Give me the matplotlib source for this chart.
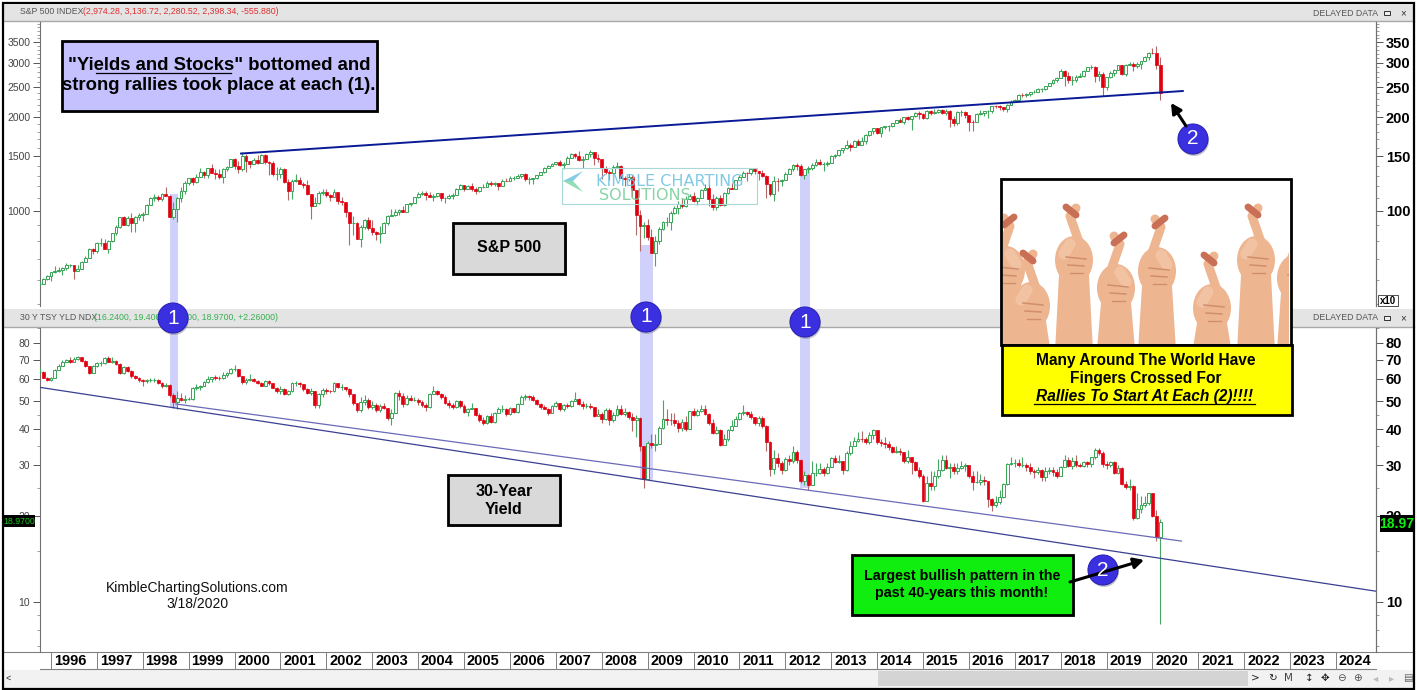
import numpy as np
import matplotlib
matplotlib.use('Agg')
import matplotlib.pyplot as plt
from matplotlib.patches import Rectangle, Circle, Ellipse, Polygon
from matplotlib.transforms import ScaledTranslation

plt.rcParams['font.family'] = ['Liberation Sans', 'DejaVu Sans']

# monthly candles, Oct 1995 to Mar 2020
spx_close = [581, 605, 616,
    636, 640, 645, 654, 669, 671, 640, 652, 687, 705, 757, 741,
    786, 791, 757, 801, 848, 885, 954, 899, 947, 915, 955, 970,
    980, 1049, 1102, 1112, 1091, 1134, 1121, 957, 1017, 1099, 1164, 1229,
    1280, 1238, 1286, 1335, 1302, 1373, 1329, 1320, 1283, 1363, 1389, 1469,
    1394, 1366, 1499, 1452, 1421, 1455, 1431, 1518, 1436, 1429, 1315, 1320,
    1366, 1240, 1160, 1249, 1256, 1224, 1211, 1134, 1041, 1060, 1139, 1148,
    1130, 1107, 1147, 1077, 1067, 990, 912, 916, 815, 886, 936, 880,
    856, 841, 848, 917, 964, 974, 990, 1008, 996, 1051, 1058, 1112,
    1131, 1145, 1126, 1107, 1121, 1141, 1102, 1104, 1115, 1130, 1174, 1212,
    1181, 1204, 1181, 1157, 1191, 1191, 1234, 1220, 1229, 1207, 1249, 1248,
    1280, 1281, 1295, 1311, 1270, 1270, 1277, 1304, 1336, 1378, 1401, 1418,
    1438, 1407, 1421, 1482, 1531, 1503, 1455, 1474, 1527, 1549, 1481, 1468,
    1379, 1331, 1323, 1386, 1400, 1280, 1267, 1283, 1166, 969, 896, 903,
    826, 735, 798, 873, 919, 919, 987, 1021, 1057, 1036, 1096, 1115,
    1074, 1104, 1169, 1187, 1089, 1031, 1102, 1049, 1141, 1183, 1181, 1258,
    1286, 1327, 1326, 1364, 1345, 1321, 1292, 1219, 1131, 1253, 1247, 1258,
    1312, 1366, 1408, 1398, 1310, 1362, 1379, 1407, 1441, 1412, 1416, 1426,
    1498, 1515, 1569, 1598, 1631, 1606, 1686, 1633, 1682, 1757, 1806, 1848,
    1783, 1859, 1872, 1884, 1924, 1960, 1931, 2003, 1972, 2018, 2068, 2059,
    1995, 2104, 2068, 2085, 2107, 2063, 2104, 1972, 1920, 2079, 2080, 2044,
    1940, 1932, 2060, 2065, 2097, 2099, 2174, 2171, 2168, 2126, 2199, 2239,
    2279, 2364, 2363, 2384, 2412, 2423, 2470, 2472, 2519, 2575, 2648, 2674,
    2824, 2714, 2641, 2648, 2705, 2718, 2816, 2901, 2914, 2712, 2760, 2507,
    2704, 2784, 2834, 2946, 2752, 2942, 2980, 2926, 2977, 3038, 3141, 3231,
    3226, 2954, 2398]
spx_high = [590, 608, 622,
    636, 665, 660, 660, 680, 673, 672, 672, 691, 714, 758, 762,
    794, 818, 815, 808, 851, 899, 957, 961, 963, 983, 964, 986,
    993, 1050, 1113, 1132, 1123, 1145, 1191, 1122, 1067, 1113, 1193, 1245,
    1280, 1282, 1316, 1371, 1348, 1373, 1420, 1361, 1361, 1373, 1397, 1473,
    1478, 1445, 1553, 1528, 1453, 1478, 1518, 1526, 1531, 1444, 1452, 1389,
    1383, 1376, 1268, 1269, 1316, 1287, 1238, 1255, 1132, 1111, 1163, 1173,
    1176, 1131, 1174, 1148, 1107, 1070, 990, 965, 925, 900, 942, 955,
    934, 864, 896, 920, 972, 1015, 1016, 1018, 1040, 1054, 1064, 1112,
    1155, 1159, 1163, 1150, 1133, 1146, 1142, 1109, 1132, 1142, 1188, 1218,
    1217, 1212, 1229, 1192, 1199, 1220, 1245, 1245, 1244, 1233, 1270, 1276,
    1295, 1295, 1311, 1319, 1326, 1284, 1280, 1306, 1340, 1390, 1408, 1432,
    1441, 1461, 1439, 1499, 1535, 1541, 1556, 1504, 1539, 1576, 1545, 1523,
    1471, 1396, 1359, 1404, 1441, 1404, 1293, 1313, 1303, 1168, 1007, 919,
    944, 876, 832, 888, 930, 957, 997, 1039, 1080, 1102, 1114, 1131,
    1150, 1113, 1181, 1220, 1220, 1132, 1120, 1130, 1151, 1197, 1228, 1262,
    1302, 1344, 1332, 1367, 1371, 1346, 1357, 1307, 1220, 1292, 1278, 1268,
    1334, 1378, 1420, 1423, 1415, 1363, 1392, 1427, 1475, 1471, 1434, 1449,
    1510, 1530, 1570, 1598, 1688, 1654, 1697, 1709, 1730, 1772, 1814, 1849,
    1850, 1868, 1884, 1897, 1924, 1968, 1991, 2006, 2019, 2019, 2076, 2094,
    2065, 2120, 2118, 2126, 2135, 2130, 2133, 2113, 2021, 2094, 2116, 2105,
    2039, 1963, 2075, 2112, 2104, 2121, 2178, 2194, 2188, 2169, 2214, 2278,
    2301, 2372, 2401, 2399, 2416, 2454, 2484, 2491, 2520, 2582, 2658, 2695,
    2873, 2835, 2801, 2717, 2743, 2791, 2848, 2917, 2941, 2940, 2815, 2800,
    2708, 2813, 2861, 2950, 2955, 2965, 3028, 3014, 3022, 3050, 3154, 3248,
    3337, 3394, 3137]
spx_low = [577, 580, 600,
    597, 630, 634, 624, 645, 658, 606, 639, 650, 692, 705, 729,
    733, 773, 756, 733, 793, 837, 882, 899, 896, 855, 855, 932,
    927, 979, 1047, 1077, 1074, 1074, 1114, 957, 940, 923, 1066, 1136,
    1212, 1212, 1228, 1282, 1277, 1278, 1329, 1269, 1269, 1233, 1348, 1387,
    1361, 1325, 1346, 1339, 1373, 1420, 1414, 1425, 1418, 1305, 1295, 1254,
    1275, 1228, 1081, 1091, 1241, 1219, 1186, 1130, 944, 1040, 1056, 1124,
    1110, 1075, 1108, 1057, 1048, 953, 776, 834, 815, 768, 877, 870,
    840, 807, 789, 848, 902, 963, 963, 968, 990, 995, 1036, 1058,
    1105, 1125, 1087, 1107, 1076, 1113, 1079, 1060, 1092, 1090, 1128, 1173,
    1164, 1180, 1163, 1137, 1147, 1186, 1191, 1201, 1205, 1168, 1202, 1245,
    1245, 1254, 1278, 1280, 1245, 1224, 1225, 1265, 1303, 1328, 1376, 1396,
    1403, 1397, 1364, 1420, 1484, 1477, 1448, 1371, 1466, 1490, 1407, 1435,
    1271, 1317, 1257, 1323, 1373, 1273, 1200, 1247, 1107, 840, 741, 818,
    805, 735, 667, 782, 866, 892, 869, 979, 978, 1020, 1030, 1085,
    1071, 1045, 1105, 1167, 1040, 1011, 1011, 1040, 1040, 1131, 1174, 1181,
    1262, 1295, 1249, 1303, 1312, 1258, 1282, 1101, 1121, 1075, 1158, 1202,
    1258, 1312, 1341, 1358, 1292, 1267, 1325, 1355, 1397, 1403, 1343, 1398,
    1426, 1485, 1501, 1537, 1582, 1560, 1605, 1628, 1633, 1646, 1747, 1768,
    1771, 1737, 1834, 1814, 1860, 1915, 1930, 1905, 1964, 1821, 2001, 1972,
    1981, 1981, 2040, 2049, 2067, 2056, 2044, 1867, 1872, 1893, 2019, 1993,
    1812, 1810, 1938, 2034, 2025, 1992, 2075, 2148, 2120, 2097, 2084, 2187,
    2245, 2267, 2322, 2329, 2353, 2406, 2408, 2418, 2446, 2520, 2558, 2605,
    2683, 2533, 2585, 2553, 2595, 2692, 2699, 2813, 2864, 2604, 2631, 2347,
    2444, 2682, 2722, 2849, 2750, 2729, 2953, 2822, 2892, 2856, 3040, 3070,
    3214, 2855, 2280]

tyx_close = [63.4, 60.6, 59.5,
    60.4, 64.6, 66.7, 68.9, 69.9, 68.9, 70.3, 71.2, 69.2, 66.4, 63.0, 66.4,
    67.9, 68.0, 71.0, 68.9, 69.1, 67.8, 63.0, 66.1, 64.0, 61.5, 60.5, 59.2,
    58.9, 59.3, 59.3, 59.5, 58.0, 56.5, 57.2, 52.6, 49.9, 51.6, 50.6, 50.9,
    50.9, 55.8, 56.2, 56.6, 58.3, 59.7, 60.8, 60.6, 60.5, 61.8, 62.9, 64.8,
    64.9, 61.5, 58.4, 59.6, 60.1, 59.0, 57.8, 56.7, 58.8, 57.9, 55.8, 54.6,
    55.1, 53.1, 54.4, 57.9, 58.0, 57.5, 55.2, 53.7, 54.2, 48.8, 52.9, 54.7,
    54.3, 54.2, 58.0, 56.0, 56.2, 55.1, 52.9, 49.2, 46.7, 49.9, 50.4, 47.8,
    48.6, 46.7, 48.2, 47.6, 43.8, 45.6, 53.6, 52.2, 48.9, 51.6, 50.4, 50.7,
    49.8, 48.5, 47.7, 53.0, 54.3, 53.1, 51.7, 49.4, 48.8, 47.9, 50.0, 48.3,
    45.9, 47.2, 47.5, 44.8, 43.2, 41.9, 44.4, 42.4, 45.7, 47.2, 47.2, 45.4,
    47.4, 45.9, 49.0, 51.7, 52.1, 51.9, 50.6, 48.9, 47.7, 47.2, 45.5, 48.1,
    49.3, 46.9, 48.5, 48.1, 50.1, 51.2, 49.1, 48.3, 48.3, 47.9, 44.6, 45.3,
    43.5, 46.7, 43.1, 44.9, 47.1, 45.3, 45.8, 44.2, 43.1, 43.8, 35.0, 26.9,
    35.8, 35.3, 35.5, 40.5, 43.4, 43.2, 43.0, 42.1, 40.5, 42.3, 40.0, 46.4,
    45.0, 46.3, 47.2, 45.3, 42.2, 38.9, 39.9, 35.2, 36.9, 39.8, 41.1, 43.3,
    45.7, 45.8, 45.1, 44.1, 42.2, 43.7, 41.2, 36.0, 29.1, 31.7, 30.5, 28.9,
    31.4, 30.9, 33.4, 31.2, 26.4, 27.6, 25.6, 28.1, 28.2, 29.1, 28.2, 29.5,
    31.7, 30.8, 31.0, 28.8, 33.0, 35.0, 36.4, 37.0, 36.9, 36.0, 38.2, 39.7,
    36.0, 35.8, 35.6, 34.6, 33.3, 33.6, 33.2, 30.9, 32.1, 30.7, 28.9, 27.5,
    22.5, 25.9, 25.4, 27.5, 28.8, 31.2, 29.2, 29.5, 28.5, 29.2, 29.8, 30.1,
    27.5, 26.1, 26.1, 26.6, 26.5, 22.9, 21.8, 22.3, 23.2, 25.8, 30.3, 30.6,
    30.6, 30.0, 30.1, 29.6, 28.6, 28.4, 28.9, 27.3, 28.6, 28.8, 28.3, 27.4,
    29.5, 31.3, 29.7, 31.1, 30.0, 29.8, 30.8, 30.2, 31.9, 33.9, 33.0, 30.2,
    30.0, 30.8, 28.1, 29.3, 25.7, 25.2, 25.3, 19.6, 21.1, 21.8, 22.1, 23.9,
    20.0, 16.8, 18.97]
tyx_high = [65.5, 63.8, 61.0,
    61.0, 65.0, 67.5, 69.5, 70.5, 71.5, 71.5, 72.0, 71.5, 70.0, 66.5, 67.0,
    68.5, 69.0, 71.5, 72.0, 71.5, 70.0, 68.0, 66.5, 66.5, 64.5, 62.0, 61.0,
    60.0, 60.0, 60.5, 60.5, 60.0, 58.5, 58.0, 57.5, 53.5, 54.5, 53.5, 52.5,
    52.0, 56.0, 57.5, 57.0, 59.0, 61.5, 61.0, 62.0, 61.5, 63.5, 63.5, 65.5,
    67.0, 65.0, 61.5, 60.5, 62.5, 60.5, 59.5, 58.5, 59.5, 59.5, 58.0, 56.0,
    56.5, 55.5, 55.0, 58.5, 59.0, 58.5, 57.5, 55.5, 55.5, 54.5, 53.5, 55.5,
    55.5, 55.0, 58.5, 58.0, 57.5, 56.0, 55.5, 52.5, 49.5, 52.0, 52.5, 51.5,
    50.0, 49.5, 49.0, 49.5, 47.5, 47.0, 54.0, 55.0, 53.5, 52.5, 52.5, 52.0,
    51.5, 50.5, 49.5, 53.5, 56.5, 55.0, 53.5, 52.5, 50.5, 49.5, 50.5, 50.5,
    49.0, 47.5, 49.5, 47.5, 45.5, 44.0, 45.0, 45.5, 46.0, 48.0, 48.5, 47.5,
    47.8, 47.5, 49.5, 52.5, 53.0, 52.5, 52.5, 51.0, 49.5, 48.5, 47.5, 48.5,
    50.0, 49.5, 49.0, 49.5, 50.5, 54.0, 51.5, 50.0, 49.5, 49.5, 48.0, 47.0,
    46.0, 47.5, 47.5, 46.0, 48.5, 48.5, 47.5, 46.5, 45.5, 45.0, 44.0, 34.0,
    36.5, 38.5, 38.5, 41.0, 50.5, 47.0, 45.5, 45.5, 43.0, 43.5, 44.5, 46.5,
    47.5, 47.0, 48.5, 48.5, 45.5, 43.5, 41.0, 40.0, 38.5, 40.0, 43.0, 44.5,
    46.0, 48.5, 46.5, 46.5, 44.0, 44.5, 44.5, 41.5, 36.5, 34.0, 33.0, 31.0,
    32.0, 32.5, 35.0, 34.0, 31.5, 28.5, 28.0, 31.0, 30.5, 30.5, 29.5, 30.5,
    32.0, 32.5, 32.5, 31.0, 33.5, 36.5, 37.5, 39.0, 39.5, 37.5, 39.0, 40.0,
    39.5, 37.0, 37.5, 36.5, 35.0, 35.0, 34.5, 33.0, 34.0, 32.0, 31.0, 29.5,
    28.0, 27.5, 28.5, 28.5, 31.5, 32.5, 32.5, 30.5, 30.5, 30.5, 31.0, 30.5,
    30.0, 28.5, 28.5, 28.0, 27.5, 26.5, 23.0, 23.5, 24.5, 26.0, 30.5, 32.0,
    31.5, 31.5, 32.0, 30.5, 30.5, 29.0, 29.5, 29.0, 29.5, 29.5, 29.5, 29.0,
    29.8, 32.5, 32.0, 32.0, 32.5, 30.5, 31.0, 31.0, 32.0, 34.5, 34.5, 33.5,
    31.0, 31.0, 31.0, 30.0, 29.5, 26.5, 26.8, 25.5, 24.0, 23.5, 23.5, 24.0,
    24.0, 21.0, 19.4]
tyx_low = [62.8, 60.2, 59.0,
    59.0, 60.2, 64.3, 66.5, 68.5, 68.0, 68.5, 69.5, 68.5, 66.0, 62.5, 63.0,
    66.0, 66.5, 67.5, 68.5, 68.0, 67.0, 62.5, 62.5, 63.5, 60.5, 60.0, 58.5,
    56.5, 58.0, 58.5, 58.5, 57.5, 55.5, 56.0, 52.0, 47.5, 47.0, 50.0, 49.5,
    50.5, 50.5, 55.0, 55.0, 56.5, 58.0, 58.5, 59.5, 59.5, 60.0, 61.0, 62.5,
    64.0, 61.0, 57.5, 57.5, 59.0, 58.5, 57.5, 56.5, 56.5, 57.0, 55.5, 53.5,
    53.0, 52.5, 52.5, 54.0, 56.5, 56.0, 54.5, 53.0, 52.5, 47.5, 47.5, 52.0,
    53.0, 53.5, 54.0, 55.5, 55.0, 54.5, 52.0, 48.5, 46.0, 46.0, 48.5, 47.0,
    47.0, 46.0, 46.0, 47.0, 43.0, 41.5, 45.5, 50.5, 48.0, 48.5, 50.0, 50.0,
    48.5, 48.0, 46.5, 47.5, 53.0, 52.5, 51.0, 49.0, 47.5, 47.0, 47.5, 47.5,
    45.5, 44.5, 47.0, 44.5, 42.5, 41.5, 41.8, 42.0, 42.0, 45.5, 46.0, 44.5,
    45.0, 45.5, 45.5, 49.0, 50.5, 50.5, 50.0, 48.5, 47.0, 47.0, 45.0, 45.5,
    47.8, 46.5, 46.5, 47.5, 48.0, 50.0, 48.5, 47.0, 47.5, 47.0, 44.0, 44.5,
    42.0, 43.0, 41.5, 42.5, 44.5, 45.0, 44.5, 43.5, 39.5, 37.5, 33.5, 25.0,
    26.9, 34.5, 33.5, 35.5, 40.0, 41.5, 41.5, 41.0, 39.0, 39.5, 39.5, 40.0,
    44.5, 44.5, 46.0, 45.0, 41.5, 38.5, 38.5, 35.0, 35.5, 36.5, 39.5, 41.0,
    43.0, 45.0, 44.5, 43.5, 41.5, 41.0, 40.5, 33.5, 27.5, 28.0, 29.5, 28.0,
    28.5, 30.0, 30.5, 30.5, 26.0, 25.5, 24.5, 25.5, 27.5, 28.0, 27.5, 28.0,
    29.5, 30.5, 30.5, 28.0, 28.5, 32.5, 35.0, 36.0, 36.0, 35.5, 35.5, 37.0,
    35.5, 35.0, 34.5, 34.0, 33.0, 33.0, 32.5, 30.5, 30.5, 28.0, 28.5, 27.0,
    22.3, 22.5, 24.5, 24.5, 27.0, 28.5, 29.0, 27.0, 28.0, 28.0, 29.0, 28.5,
    27.0, 24.5, 26.0, 25.5, 25.5, 21.5, 20.8, 21.5, 22.0, 23.0, 25.5, 30.0,
    29.5, 29.5, 29.5, 28.5, 28.0, 27.0, 28.0, 26.5, 26.5, 28.0, 27.5, 27.0,
    27.5, 29.5, 29.5, 29.0, 29.5, 29.5, 29.5, 29.5, 29.5, 31.5, 32.5, 29.5,
    29.0, 29.5, 28.0, 28.0, 25.5, 24.8, 24.5, 19.3, 19.5, 20.5, 21.5, 21.8,
    19.8, 16.3, 8.4]

years = list(range(1996, 2025))
spx_ticks = [1000, 1500, 2000, 2500, 3000, 3500]
tyx_ticks = [10, 20, 30, 40, 50, 60, 70, 80]

# trendlines, (date, value) of each end
spx_trend_x = [2000.14, 2020.66]
spx_trend_y = [1531, 2434]
tyx_lower_x = [1995.76, 2024.87]
tyx_lower_y = [56, 10.9]
tyx_upper_x = [1998.72, 2020.63]
tyx_upper_y = [49, 16.3]

W, H = 1417, 690
fig = plt.figure(figsize=(W / 100, H / 100), dpi=100)


def pane(top, bottom):
    return fig.add_axes([40 / W, 1 - bottom / H, 1336 / W, (bottom - top) / H], zorder=1)


def candles(ax, x, close, high, low):
    close = np.array(close, dtype=float)
    high = np.array(high, dtype=float)
    low = np.array(low, dtype=float)
    opn = np.r_[close[0], close[:-1]]
    up = close >= opn
    ax.vlines(x[up], low[up], high[up], color='#45a862', lw=0.8, zorder=3)
    ax.vlines(x[~up], low[~up], high[~up], color='#b06a6a', lw=0.8, zorder=3)
    ax.bar(x[up], np.abs(close - opn)[up], bottom=opn[up], width=0.062,
           facecolor='white', edgecolor='#35a552', lw=0.7, zorder=4)
    ax.bar(x[~up], np.abs(close - opn)[~up], bottom=close[~up], width=0.062,
           facecolor='#e00010', edgecolor='#e00010', lw=0.5, zorder=4)


def style_pane(ax, lo, hi, major, minor, fmt_right):
    ax.set_yscale('log')
    ax.set_xlim(1995.76, 2024.87)
    ax.set_ylim(lo, hi)
    ax.patch.set_visible(False)
    for s in ['top', 'bottom']:
        ax.spines[s].set_visible(False)
    for s in ['left', 'right']:
        ax.spines[s].set_color('#707070')
    ax.set_yticks(major)
    ax.set_yticklabels([str(v) for v in major])
    ax.set_yticks(minor, minor=True)
    ax.set_yticklabels([], minor=True)
    ax.tick_params(axis='y', which='major', length=5, width=0.7, color='#555555',
                   labelsize=7.5, labelcolor='#444444', pad=2)
    ax.tick_params(axis='y', which='minor', length=2.5, width=0.5, color='#777777')
    sec = ax.secondary_yaxis('right', functions=(lambda v: v / fmt_right, lambda v: v * fmt_right))
    sec.set_yscale('log')
    sec.set_yticks([v / fmt_right for v in major])
    sec.set_yticklabels([str(int(v / fmt_right)) for v in major], fontweight='bold')
    sec.set_yticks([v / fmt_right for v in minor], minor=True)
    sec.set_yticklabels([], minor=True)
    sec.tick_params(axis='y', which='major', length=5, width=0.7, color='#555555', labelsize=10.5, pad=2)
    sec.tick_params(axis='y', which='minor', length=2.5, width=0.5, color='#777777')
    sec.spines['right'].set_color('#707070')


# background layer, pixel coordinates
bg = fig.add_axes([0, 0, 1, 1], zorder=0)
bg.set_xlim(0, W)
bg.set_ylim(H, 0)
bg.axis('off')

for top, bottom in [(5, 21), (309, 327)]:
    bg.add_patch(Rectangle((4, top), 1410, bottom - top, fc='#e4e4e4', ec='none'))
    bg.plot([4, 1414], [bottom, bottom], color='#a8a8a8', lw=1)
    bg.text(1346, (top + bottom) / 2, 'DELAYED DATA', fontsize=6.3, color='#555555', ha='center', va='center')
    bg.add_patch(Rectangle((1384, (top + bottom) / 2 - 2), 6, 4, fc='#eeeeee', ec='#333333', lw=0.7))
    bg.text(1403, (top + bottom) / 2, '×', fontsize=7, color='#333333', ha='center', va='center')

bg.text(20, 11, 'S&P 500 INDEX', fontsize=6.3, color='#555555', va='center')
bg.text(83, 11, '(2,974.28, 3,136.72, 2,280.52, 2,398.34, -555.880)', fontsize=6.3, color='#e03030', va='center')
bg.text(20, 318, '30 Y TSY YLD NDX', fontsize=6.3, color='#555555', va='center')
bg.text(94, 318, '(16.2400, 19.4000, 6.9800, 18.9700, +2.26000)', fontsize=6.3, color='#35b050', va='center')

# the three (1) bands
for x0, x1, y0, y1 in [(170, 178, 194, 408), (640, 653, 245, 480), (800, 810, 170, 488)]:
    bg.add_patch(Rectangle((x0, y0), x1 - x0, y1 - y0, fc='#cfd1fb', ec='none'))

# bottom strip
bg.plot([4, 1414], [652, 652], color='#808080', lw=0.8)
bg.plot([40, 1376], [669, 669], color='#808080', lw=0.8)
bg.add_patch(Rectangle((4, 670), 1410, 18, fc='#f2f2f2', ec='none'))
bg.add_patch(Rectangle((878, 671), 370, 15, fc='#d4d4d4', ec='none'))
bg.text(8, 678, '<', fontsize=6.5, color='#222222', ha='center', va='center')
for x, s, c in [(1255, '>', '#222222'), (1273, '↻', '#222222'), (1288, 'M', '#444444'), (1309, '↕', '#222222'),
                (1325, '✥', '#222222'), (1341, '⊖', '#555555'), (1357, '⊕', '#555555'),
                (1376, '◂', '#bbbbbb'), (1392, '▸', '#bbbbbb'), (1408, '▤', '#666666')]:
    bg.text(x, 678, s, fontsize=7.5, color=c, ha='center', va='center', family=['DejaVu Sans'])

# data panes
dates = 1995.75 + np.arange(len(spx_close)) / 12

ax1 = pane(22, 306)
style_pane(ax1, 494.4, 4060, spx_ticks,
           [500, 600, 700, 800, 900, 1100, 1200, 1300, 1400, 1600, 1700, 1800, 1900, 2100, 2200, 2300, 2400,
            2600, 2700, 2800, 2900, 3100, 3200, 3300, 3400, 3600, 3700, 3800, 3900, 4000], 10)
candles(ax1, dates, spx_close, spx_high, spx_low)
ax1.plot(spx_trend_x, spx_trend_y, color='#0a1a96', lw=1.4, zorder=5)
ax1.set_xticks([])

ax2 = pane(328, 652)
style_pane(ax2, 6.69, 90.2, tyx_ticks, [7, 8, 9, 15, 25, 35, 45, 90], 1)
candles(ax2, dates, tyx_close, tyx_high, tyx_low)
ax2.plot(tyx_lower_x, tyx_lower_y, color='#3a3f92', lw=0.9, zorder=5)
ax2.plot(tyx_upper_x, tyx_upper_y, color='#6a6ab8', lw=0.9, zorder=5)
ax2.set_xticks(years)
ax2.set_xticklabels([str(y) for y in years], ha='left', fontweight='bold', fontsize=10.5)
ax2.tick_params(axis='x', length=12.2, width=0.7, color='#808080', pad=-11)
for lbl in ax2.get_xticklabels():
    lbl.set_transform(lbl.get_transform() + ScaledTranslation(2 / 72, 0, fig.dpi_scale_trans))

# foreground layer, pixel coordinates
fg = fig.add_axes([0, 0, 1, 1], zorder=2)
fg.set_xlim(0, W)
fg.set_ylim(H, 0)
fg.axis('off')
fg.patch.set_visible(False)


def box(x0, y0, x1, y1, fc, lw=2, shadow=True):
    if shadow:
        fg.add_patch(Rectangle((x0 + 2, y0 + 2), x1 - x0, y1 - y0, fc='#777777', ec='none', alpha=0.5))
    fg.add_patch(Rectangle((x0, y0), x1 - x0, y1 - y0, fc=fc, ec='#000000', lw=lw))


def badge(x, y, s):
    fg.add_patch(Circle((x + 1, y + 2), 15, fc='#888888', ec='none', alpha=0.5))
    fg.add_patch(Circle((x, y), 15, fc='#3a30e0', ec='#2a22b8', lw=0.8))
    fg.text(x, y, s, color='white', fontsize=15, ha='center', va='center')


def arrow(x0, y0, x1, y1):
    fg.annotate('', xy=(x1, y1), xytext=(x0, y0),
                arrowprops=dict(arrowstyle='-|>,head_width=0.32,head_length=0.6', color='black', lw=2.2,
                                shrinkA=0, shrinkB=0))


# watermark
fg.add_patch(Rectangle((562, 168), 195, 36, fc='none', ec='#a8d8d8', lw=0.8))
fg.add_patch(Polygon([(563, 181), (583, 171), (573, 181)], fc='#6cc4e0', ec='none', alpha=0.85))
fg.add_patch(Polygon([(563, 181), (583, 192), (573, 181)], fc='#7fd8a8', ec='none', alpha=0.85))
fg.text(670, 181, 'KIMBLE CHARTING', fontsize=11.5, color='#74c4e2', ha='center', va='center', family=['DejaVu Sans'], alpha=0.9)
fg.text(645, 195, 'SOLUTIONS', fontsize=11.5, color='#7ccf9e', ha='center', va='center', family=['DejaVu Sans'], alpha=0.9)

# top-left note
box(62, 41, 377, 111, '#c5c1ff')
fg.text(219, 66, '"Yields and Stocks" bottomed and', fontsize=13.3, fontweight='bold', ha='center', va='center')
fg.text(219, 85, 'strong rallies took place at each (1).', fontsize=13.3, fontweight='bold', ha='center', va='center')
fg.plot([96, 231], [73, 73], color='black', lw=0.9)

box(453, 223, 565, 274, '#d9d9d9')
fg.text(509, 248, 'S&P 500', fontsize=11.5, fontweight='bold', ha='center', va='center')
box(448, 475, 560, 525, '#d9d9d9')
fg.text(504, 491, '30-Year', fontsize=11.5, fontweight='bold', ha='center', va='center')
fg.text(504, 509, 'Yield', fontsize=11.5, fontweight='bold', ha='center', va='center')

fg.text(197, 588, 'KimbleChartingSolutions.com', fontsize=10, ha='center', va='center', color='#111111')
fg.text(197, 604, '3/18/2020', fontsize=10, ha='center', va='center', color='#111111')

# green note
arrow(1070, 582, 1144, 560)
box(852, 555, 1073, 615, '#10ee10')
fg.text(962, 576, 'Largest bullish pattern in the', fontsize=10.3, fontweight='bold', ha='center', va='center')
fg.text(962, 593, 'past 40-years this month!', fontsize=10.3, fontweight='bold', ha='center', va='center')

# photo of crossed fingers, drawn as simple hands
photo = Rectangle((1001, 179), 290, 166, fc='white', ec='black', lw=2, zorder=2)
fg.add_patch(photo)
clip = Rectangle((1003, 181), 286, 163, transform=fg.transData)
skin = '#eeb591'
shade = '#d08e6c'
nail = '#c96f55'
for cx, top, lean in [(1006, 212, 1), (1031, 248, -1), (1074, 202, -1), (1116, 230, 1), (1157, 213, 1),
                      (1212, 250, -1), (1256, 202, -1), (1296, 220, 1)]:
    palm_y = top + 58
    arts = []
    arts.append(fg.add_patch(Polygon([(cx - 15, palm_y + 15), (cx + 15, palm_y + 15), (cx + 17 * 1.1, 346), (cx - 17 * 1.1, 346)],
                                     fc=skin, ec='none', zorder=3)))
    arts.append(fg.add_patch(Ellipse((cx, palm_y), 38, 48, fc=skin, ec='none', zorder=3)))
    # two crossed fingers
    arts += fg.plot([cx - 6 * lean, cx + 4 * lean, cx - 2 * lean], [palm_y - 15, top + 14, top + 6],
                    color=skin, lw=6.5, solid_capstyle='round', zorder=4)
    arts += fg.plot([cx - 2 * lean, cx + 8 * lean], [top + 13, top + 5], color=nail, lw=5, solid_capstyle='round', zorder=5)
    arts += fg.plot([cx + 4 * lean, cx + 10 * lean], [palm_y - 16, palm_y - 6], color='#f2c3a3', lw=8, solid_capstyle='round', zorder=4)
    # creases
    arts += fg.plot([cx - 8, cx + 12], [palm_y - 3, palm_y - 1], color=shade, lw=1.1, zorder=5)
    arts += fg.plot([cx - 6, cx + 10], [palm_y + 5, palm_y + 6], color=shade, lw=1.1, zorder=5)
    arts += fg.plot([cx - 4, cx + 9], [palm_y + 13, palm_y + 13], color=shade, lw=1.0, zorder=5)
    for a in arts:
        a.set_clip_path(clip)

yellow = Rectangle((1002, 345), 290, 70, fc='#ffff00', ec='black', lw=2, zorder=6)
fg.add_patch(yellow)
fg.text(1146, 361, 'Many Around The World Have', fontsize=11.2, fontweight='bold', ha='center', va='center', zorder=7)
fg.text(1146, 379, 'Fingers Crossed For', fontsize=11.2, fontweight='bold', ha='center', va='center', zorder=7)
fg.text(1145, 397, 'Rallies To Start At Each (2)!!!!', fontsize=11.2, fontweight='bold', style='italic', ha='center', va='center', zorder=7)
fg.plot([1034, 1255], [404, 404], color='black', lw=0.9, zorder=7)

# arrow and badges
arrow(1186, 126, 1171, 103)
for x, y in [(173, 318), (646, 317), (805, 322)]:
    badge(x, y, '1')
badge(1193, 139, '2')
badge(1103, 570, '2')

# last price tags
fg.add_patch(Rectangle((4, 515), 31, 12, fc='black', ec='none'))
fg.text(19.5, 521, '18.9700', color='#18c818', fontsize=6.3, ha='center', va='center')
fg.add_patch(Rectangle((1380, 515), 34, 17, fc='black', ec='none'))
fg.text(1397, 524, '18.97', color='#10f010', fontsize=10, fontweight='bold', ha='center', va='center')

# x10 mark
fg.add_patch(Rectangle((1378, 295), 20, 11, fc='white', ec='#333333', lw=0.6))
fg.text(1388, 300.5, 'x10', fontsize=7, fontweight='bold', ha='center', va='center')

# outer frame
fg.add_patch(Rectangle((3, 3), 1411, 686, fc='none', ec='black', lw=1.6))

fig.savefig('out.png', dpi=100)
